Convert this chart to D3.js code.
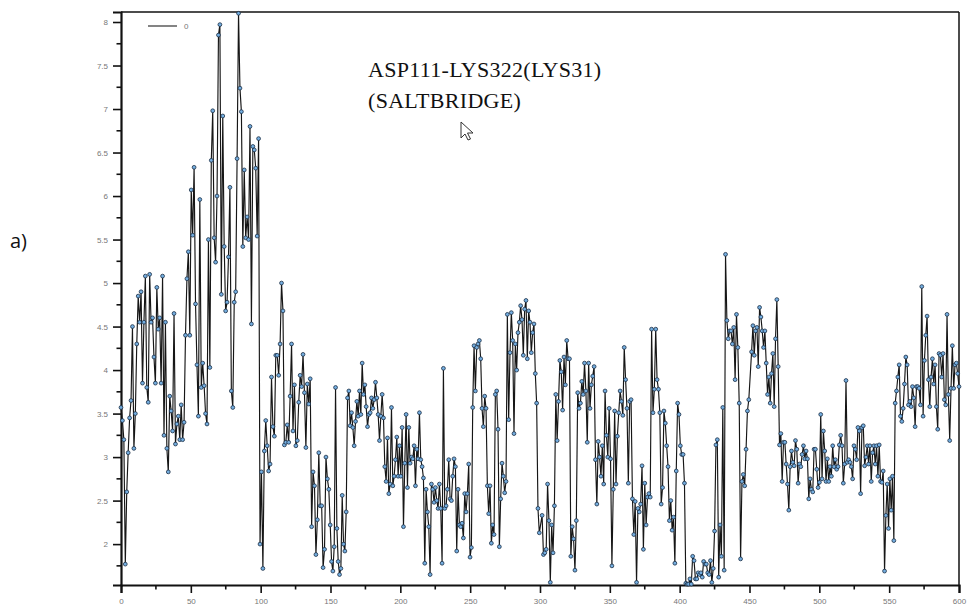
<!DOCTYPE html>
<html>
<head>
<meta charset="utf-8">
<script src="https://cdn.jsdelivr.net/npm/d3@7"></script>
<style>
  html, body { margin: 0; padding: 0; background: #fff; }
  svg { display: block; }
</style>
</head>
<body>
<svg id="chart" width="967" height="609"></svg>
<script>
// ---- data (distance vs. time) ----
const titleLines = ["ASP111-LYS322(LYS31)", "(SALTBRIDGE)"];
const legendLabel = "0";
const panelLabel = "a)";
const xTickValues = [0, 50, 100, 150, 200, 250, 300, 350, 400, 450, 500, 550, 600];
const yTickValues = [2, 2.5, 3, 3.5, 4, 4.5, 5, 5.5, 6, 6.5, 7, 7.5, 8];
const xDomain = [0, 600];
const yDomain = [1.53, 8.115];

// segment time spans [start, end] and values
const seg1Span = [0, 148.8];
const seg1 = [3.57,3.42,3.2,1.77,2.6,3.05,3.45,3.65,4.5,3.1,3.5,4.3,4.85,4.55,4.9,3.85,4.55,5.08,3.8,3.63,
  5.1,4.55,4.6,4.15,3.85,4.95,4.47,4.6,3.85,5.08,3.25,4.55,3.1,2.83,3.7,3.53,3.3,4.65,3.15,3.38,
  3.47,3.2,3.6,3.2,3.4,4.4,5.05,5.36,4.4,6.07,5.55,6.33,4.76,4.06,3.47,5.96,3.8,4.08,3.82,3.5,
  3.38,5.5,4.03,6.41,6.98,5.52,5.24,6.0,7.85,7.97,4.87,6.92,5.42,4.68,4.78,5.3,6.1,3.76,3.57,4.78,
  4.9,6.43,8.1,7.24,6.97,5.42,6.3,5.52,5.76,5.5,6.8,4.53,6.57,6.53,6.32,5.54,6.66,2.0,2.83,1.72,
  3.07,3.42,3.13,2.84,2.92,3.92,3.35,3.24,4.17,4.17,3.94,4.3,5.0,4.68,3.14,3.17,3.37,3.17,3.7,4.3,
  3.3,3.83,3.13,3.19,3.63,3.94,3.81,4.18,3.74,3.11,3.84,3.61,3.9,2.2,2.83,2.67,1.88,2.28,3.05,2.44,
  2.44,1.73,1.94,3.0,2.75,2.63];
const seg2Span = [149.8, 299.5];
const seg2 = [2.22,1.8,1.69,1.97,3.8,2.18,1.8,1.65,1.72,2.56,2.0,1.92,2.37,3.68,3.76,3.36,3.51,3.34,3.13,3.41,
  3.64,3.47,3.76,3.49,4.08,3.72,3.83,3.58,3.35,3.49,3.51,3.68,3.56,3.66,3.86,3.68,3.49,3.19,3.47,3.72,
  3.45,2.89,2.72,3.22,2.58,2.69,3.57,2.67,2.78,2.97,3.23,2.78,3.13,2.78,3.34,2.2,2.93,3.49,2.65,3.34,
  2.93,3.0,2.98,3.13,2.67,3.09,2.98,3.51,2.97,2.89,2.76,1.78,2.63,2.37,2.2,1.65,2.69,2.63,2.48,2.65,
  2.5,2.41,2.69,2.41,1.78,4.02,2.41,2.44,2.63,2.97,2.52,2.5,2.78,2.98,2.89,1.92,2.63,2.22,2.2,2.24,
  2.07,2.58,2.37,2.58,2.92,1.85,1.96,3.57,4.28,3.76,4.26,4.3,4.34,4.13,3.56,3.35,3.7,3.56,2.67,2.35,
  2.67,2.01,2.22,2.11,3.72,3.76,3.32,1.97,2.52,2.93,2.78,2.59,2.72,4.64,3.43,4.2,4.66,4.34,3.27,4.3,
  4.0,4.43,4.55,4.74,4.58,4.17,4.7,4.8,4.13,4.68,4.55,4.2,4.43,4.53,3.96,3.62,2.41,2.13];
const seg3Span = [301.5, 449.5];
const seg3 = [2.33,1.88,1.9,1.94,2.69,2.27,1.56,2.22,1.9,2.44,3.72,3.19,3.64,4.11,3.98,3.54,4.15,3.83,4.34,4.13,
  4.13,1.86,2.2,2.06,1.7,2.27,3.74,3.56,3.62,3.87,3.72,4.08,3.76,3.17,4.08,3.56,3.83,3.93,4.04,2.97,
  2.46,3.18,3.0,2.78,3.13,2.69,3.76,3.25,3.0,3.56,2.98,1.75,2.63,3.53,2.69,3.24,3.51,3.76,3.64,3.48,
  4.26,3.89,3.56,2.7,3.64,3.66,2.52,2.11,2.49,1.56,2.41,2.37,2.46,2.9,1.94,2.7,2.22,2.54,2.58,2.54,
  4.47,3.51,3.78,4.47,3.89,3.78,3.51,2.46,2.65,3.53,3.39,3.13,2.89,2.27,2.5,2.16,2.31,1.78,2.84,3.62,
  3.49,3.13,3.03,3.03,2.7,1.55,1.54,1.54,1.6,1.54,1.86,1.81,1.6,1.6,1.67,1.65,1.67,1.62,1.8,1.77,
  1.77,1.67,1.65,1.81,1.56,1.72,2.15,3.14,3.2,1.62,2.22,1.86,3.57,1.7,5.33,4.57,4.36,4.45,4.45,4.3,
  4.49,3.89,4.64,4.26,3.62,1.83,2.72,2.8,2.67,3.09,3.53,3.66];
const seg4Span = [451.5, 600];
const seg4 = [4.21,4.51,4.17,4.45,4.49,4.04,4.72,4.61,4.45,4.26,4.45,4.08,3.72,3.92,3.62,3.96,4.19,3.58,4.36,4.81,
  4.04,3.14,3.27,2.72,3.17,3.17,2.92,2.69,2.39,2.89,3.07,2.94,2.9,3.19,3.09,2.7,2.92,2.89,3.03,3.13,
  2.98,3.07,2.98,2.52,2.75,2.63,2.6,3.09,3.09,2.86,2.65,2.71,3.49,2.75,3.3,3.07,2.72,2.98,2.72,2.89,
  2.78,3.13,2.89,2.97,2.86,2.89,3.14,3.25,3.13,2.7,2.92,3.88,2.94,2.97,2.94,2.89,2.75,3.13,3.09,2.97,
  3.34,3.3,2.58,3.34,3.36,2.9,3.0,3.13,2.92,3.13,2.72,3.05,3.13,2.92,3.13,2.78,3.14,2.72,2.71,2.84,
  1.69,2.33,2.69,2.18,2.75,2.39,2.78,2.04,3.62,3.76,3.92,4.06,3.47,3.41,3.56,3.84,4.15,4.06,3.6,3.64,
  3.58,3.81,3.68,3.35,3.81,3.81,3.79,3.6,4.96,3.47,4.11,4.4,4.62,3.89,3.58,3.92,4.13,3.84,4.06,3.58,
  3.32,4.19,4.17,3.92,4.19,3.66,3.6,4.64,3.72,3.19,3.79,4.28,3.79,4.06,4.08,3.96,3.81];

// ---- build series ----
function segPoints(span, vals) {
  const n = vals.length;
  return vals.map((v, i) => ({ t: span[0] + (span[1] - span[0]) * i / (n - 1), v }));
}
const series = [].concat(
  segPoints(seg1Span, seg1), segPoints(seg2Span, seg2),
  segPoints(seg3Span, seg3), segPoints(seg4Span, seg4));

// ---- layout ----
const svg = d3.select("#chart");
const plotLeft = 121, plotRight = 959, plotTop = 12, plotBottom = 585;

const x = d3.scaleLinear().domain(xDomain).range([plotLeft, plotRight]);
const y = d3.scaleLinear().domain(yDomain).range([plotBottom, plotTop]);

const tickColor = "#777";
const tickFont = "Liberation Sans, Arial, sans-serif";

// frame (top and right)
svg.append("line").attr("x1", plotLeft).attr("x2", plotRight).attr("y1", plotTop).attr("y2", plotTop)
  .attr("stroke", "#111").attr("stroke-width", 1.5);
svg.append("line").attr("x1", plotRight).attr("x2", plotRight).attr("y1", plotTop).attr("y2", plotBottom)
  .attr("stroke", "#111").attr("stroke-width", 1.5);

// minor ticks
const xMinor = d3.range(25, 600, 50);
const yMinor = d3.range(1.75, 8.1, 0.5);

const gx = svg.append("g").attr("transform", `translate(0,${plotBottom})`);
gx.call(d3.axisBottom(x).tickValues(xTickValues).tickSize(8).tickPadding(5).tickFormat(d3.format("d")));
gx.selectAll(".domain").attr("stroke", "#111").attr("stroke-width", 2.2);
gx.selectAll(".tick line").attr("stroke", "#111").attr("stroke-width", 1.6);
gx.selectAll(".tick text").attr("fill", tickColor).attr("font-size", 8).attr("font-family", tickFont);
gx.selectAll(".minor").data(xMinor).join("line").attr("class", "minor")
  .attr("x1", d => x(d)).attr("x2", d => x(d)).attr("y1", 0).attr("y2", 4.5)
  .attr("stroke", "#111").attr("stroke-width", 1.6);

const gy = svg.append("g").attr("transform", `translate(${plotLeft},0)`);
gy.call(d3.axisLeft(y).tickValues(yTickValues).tickSize(8).tickPadding(5).tickFormat(d => String(d)));
gy.selectAll(".domain").attr("stroke", "#111").attr("stroke-width", 2.2);
gy.selectAll(".tick line").attr("stroke", "#111").attr("stroke-width", 1.6);
gy.selectAll(".tick text").attr("fill", tickColor).attr("font-size", 8).attr("font-family", tickFont);
gy.selectAll(".minor").data(yMinor).join("line").attr("class", "minor")
  .attr("x1", 0).attr("x2", -4.5).attr("y1", d => y(d)).attr("y2", d => y(d))
  .attr("stroke", "#111").attr("stroke-width", 1.6);

// data line
const line = d3.line().x(d => x(d.t)).y(d => y(d.v));
svg.append("path").datum(series).attr("d", line)
  .attr("fill", "none").attr("stroke", "#161616").attr("stroke-width", 1.15)
  .attr("stroke-linejoin", "round");

// markers
svg.append("g").selectAll("circle").data(series).join("circle")
  .attr("cx", d => x(d.t)).attr("cy", d => y(d.v)).attr("r", 1.9)
  .attr("fill", "#74aee0").attr("stroke", "#1c2f45").attr("stroke-width", 0.8);

// legend
svg.append("line").attr("x1", 148).attr("x2", 177).attr("y1", 26).attr("y2", 26)
  .attr("stroke", "#333").attr("stroke-width", 1.2);
svg.append("text").attr("x", 184).attr("y", 29).text(legendLabel)
  .attr("fill", tickColor).attr("font-size", 8).attr("font-family", tickFont);

// title
const title = svg.append("text").attr("font-family", "Liberation Serif, Times New Roman, serif")
  .attr("font-size", 22).attr("fill", "#111").attr("letter-spacing", 0.3);
title.selectAll("tspan").data(titleLines).join("tspan")
  .attr("x", 368).attr("y", (d, i) => 77 + i * 31).text(d => d);

// cursor glyph (decoration from the screenshot)
svg.append("path")
  .attr("d", "M461,122 L461,138 L465,134 L468,140 L470.5,139 L467.5,133 L473,133 Z")
  .attr("fill", "#fff").attr("stroke", "#333").attr("stroke-width", 1);

// panel label
svg.append("text").attr("x", 10).attr("y", 248).text(panelLabel)
  .attr("font-family", "Open Sans, Liberation Sans, sans-serif").attr("font-size", 20).attr("fill", "#111");
</script>
</body>
</html>
